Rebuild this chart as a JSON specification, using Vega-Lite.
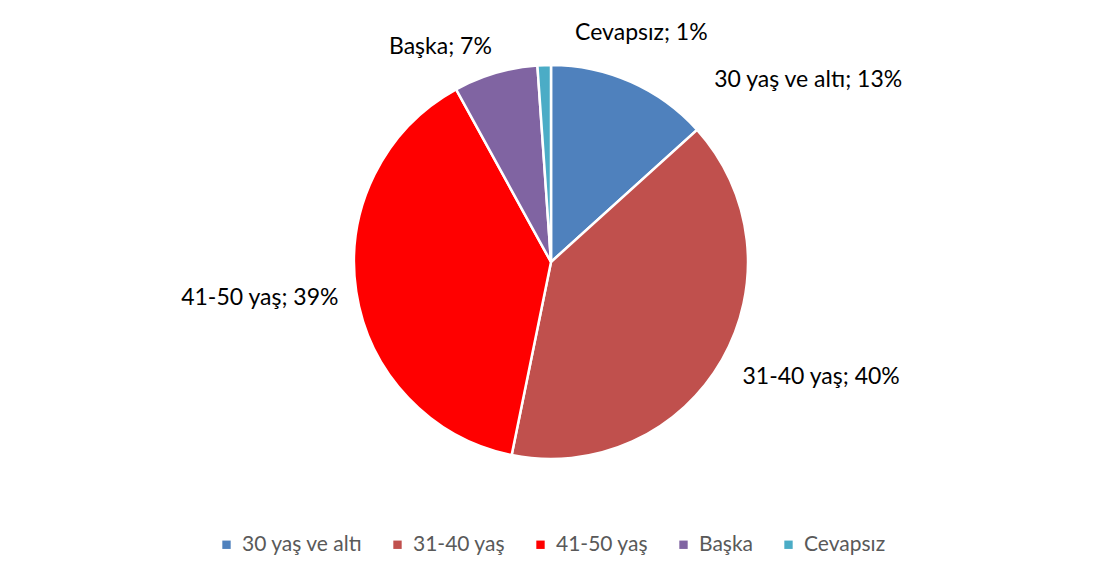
{
  "$schema": "https://vega.github.io/schema/vega-lite/v6.json",
  "width": 1086,
  "height": 524,
  "padding": {"left": 8, "top": 0, "right": 0, "bottom": 0},
  "autosize": {"type": "pad"},
  "background": "white",
  "config": {
    "view": {"stroke": null},
    "font": "Lato",
    "legend": {"layout": {"bottom": {"anchor": "middle"}}}
  },
  "data": {
    "values": [
      {"cat": "30 yaş ve altı", "value": 13.3, "order": 1},
      {"cat": "31-40 yaş", "value": 39.9, "order": 2},
      {"cat": "41-50 yaş", "value": 38.8, "order": 3},
      {"cat": "Başka", "value": 6.9, "order": 4},
      {"cat": "Cevapsız", "value": 1.1, "order": 5}
    ]
  },
  "transform": [
    {"stack": "value", "groupby": [], "sort": [{"field": "order", "order": "ascending"}], "as": ["v0", "v1"]},
    {"calculate": "(datum.v0 + datum.v1) / 2", "as": "mid"},
    {"calculate": "datum.cat + '; ' + format(datum.value, '.0f') + '%'", "as": "label"}
  ],
  "layer": [
    {
      "mark": {"type": "arc", "outerRadius": 197, "stroke": "white", "strokeWidth": 2.5},
      "encoding": {
        "theta": {"field": "v0", "type": "quantitative", "scale": {"domain": [0, 100]}},
        "theta2": {"field": "v1"},
        "color": {
          "field": "cat",
          "type": "nominal",
          "sort": ["30 yaş ve altı", "31-40 yaş", "41-50 yaş", "Başka", "Cevapsız"],
          "scale": {
            "domain": ["30 yaş ve altı", "31-40 yaş", "41-50 yaş", "Başka", "Cevapsız"],
            "range": ["#4F81BD", "#C0504D", "#FF0000", "#8064A2", "#4BACC6"]
          },
          "legend": {
            "title": null,
            "orient": "bottom",
            "direction": "horizontal",
            "offset": 10,
            "symbolType": "square",
            "symbolSize": 70,
            "symbolStrokeWidth": 0,
            "labelFont": "Lato",
            "labelFontSize": 21,
            "labelColor": "#595959",
            "columnPadding": 24,
            "symbolOffset": 0,
            "labelOffset": 5
          }
        }
      }
    },
    {
      "transform": [{"filter": "datum.cat == '30 yaş ve altı'"}],
      "mark": {"type": "text", "radius": 205, "align": "left", "baseline": "middle", "dx": 80, "dy": 5, "fontSize": 23, "color": "#000000"},
      "encoding": {"theta": {"field": "mid", "type": "quantitative", "scale": {"domain": [0, 100]}}, "text": {"field": "label"}}
    },
    {
      "transform": [{"filter": "datum.cat == '31-40 yaş'"}],
      "mark": {"type": "text", "radius": 232, "align": "left", "baseline": "middle", "dx": -10, "fontSize": 23, "color": "#000000"},
      "encoding": {"theta": {"field": "mid", "type": "quantitative", "scale": {"domain": [0, 100]}}, "text": {"field": "label"}}
    },
    {
      "transform": [{"filter": "datum.cat == '41-50 yaş'"}],
      "mark": {"type": "text", "radius": 215, "align": "right", "baseline": "middle", "dy": 4, "fontSize": 23, "color": "#000000"},
      "encoding": {"theta": {"field": "mid", "type": "quantitative", "scale": {"domain": [0, 100]}}, "text": {"field": "label"}}
    },
    {
      "transform": [{"filter": "datum.cat == 'Başka'"}],
      "mark": {"type": "text", "radius": 224, "align": "right", "baseline": "middle", "dx": 4, "fontSize": 23, "color": "#000000"},
      "encoding": {"theta": {"field": "mid", "type": "quantitative", "scale": {"domain": [0, 100]}}, "text": {"field": "label"}}
    },
    {
      "transform": [{"filter": "datum.cat == 'Cevapsız'"}],
      "mark": {"type": "text", "radius": 229, "align": "left", "baseline": "middle", "dx": 32, "fontSize": 23, "color": "#000000"},
      "encoding": {"theta": {"field": "mid", "type": "quantitative", "scale": {"domain": [0, 100]}}, "text": {"field": "label"}}
    }
  ]
}
